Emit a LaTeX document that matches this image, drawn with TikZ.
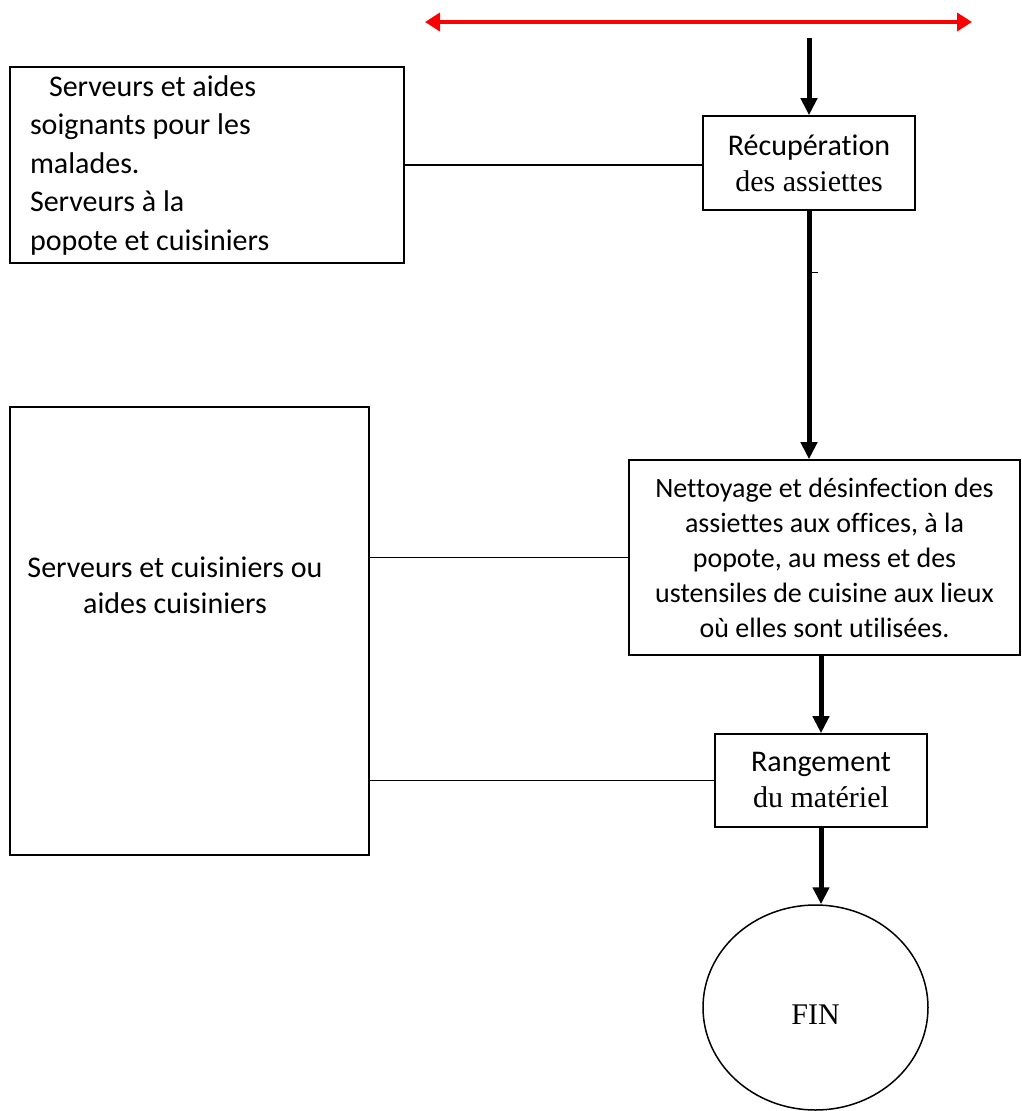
\documentclass[tikz,border=0pt]{standalone}
\usepackage{fontspec}
\setmainfont{Carlito}[Ligatures=NoCommon]
\newfontfamily\timesfont{Liberation Serif}
\usepackage{tikz}
\usetikzlibrary{arrows.meta, positioning, calc, shapes.geometric}
\tikzset{
    box/.style={draw, line width=1.6pt, inner sep=0pt, align=center, font=\fontsize{30}{36}\selectfont},
    flow/.style={-{Triangle[length=17pt, width=16pt]}, line width=5pt},
    link/.style={line width=1.3pt},
    span_arrow/.style={{Triangle[length=15pt, width=18pt]}-{Triangle[length=15pt, width=18pt]}, line width=4pt, red}
}
\begin{document}
\begin{tikzpicture}[x=1pt, y=-1pt]
    \useasboundingbox (0,0) rectangle (1022,1111);
    % Steps on the right
    \node[box, minimum width=212pt, minimum height=94pt] (recup) at (809,163) {Récupération\\{\timesfont des assiettes}};
    \node[box, minimum width=391pt, minimum height=195pt, font=\fontsize{28}{35}\selectfont] (nett) at (824.5,557.5)
        {Nettoyage et désinfection des\\assiettes aux offices, à la\\popote, au mess et des\\ustensiles de cuisine aux lieux\\où elles sont utilisées.};
    \node[box, minimum width=212pt, minimum height=93pt] (rang) at (821,780.5) {Rangement\\{\timesfont du matériel}};
    \node[box, ellipse, line width=1.5pt, minimum width=225pt, minimum height=205pt, font=\timesfont\fontsize{30}{36}\selectfont] (fin) at (815.5,1007.5) {\raisebox{-17pt}[0pt][0pt]{FIN}};
    % Staff on the left
    \node[box, align=flush left, text width=354pt, inner xsep=20pt, minimum height=196pt, font=\fontsize{30}{38.5}\selectfont] (lbox1) at (207,165)
        {\hspace*{19pt}Serveurs et aides\\soignants pour les\\malades.\\Serveurs à la\\popote et cuisiniers};
    \node[box, minimum width=359pt, minimum height=448pt] (lbox2) at (189.5,631) {};
    \node[align=center, font=\fontsize{30}{36}\selectfont] (lbox2txt) at (175,585) {Serveurs et cuisiniers ou\\aides cuisiniers};
    % Red span
    \coordinate (spanL) at (425,22);
    \coordinate (spanR) at (972,22);
    \draw[span_arrow] (spanL) -- (spanR);
    % Flow arrows
    \coordinate (top) at (809,38);
    \draw[flow] (top) -- (recup.north);
    \draw[flow] (recup.south) -- (recup.south |- nett.north);
    \draw[flow] (rang.north |- nett.south) -- (rang.north);
    \draw[flow] (rang.south) -- (rang.south |- fin.north);
    \coordinate (tick) at (812,272);
    \draw[line width=1pt] (tick) -- ++(6,0);
    % Links to staff
    \draw[link] (lbox1.east) -- (lbox1.east -| recup.west);
    \draw[link] (nett.west) -- (nett.west -| lbox2.east);
    \draw[link] (rang.west) -- (rang.west -| lbox2.east);
\end{tikzpicture}
\end{document}
